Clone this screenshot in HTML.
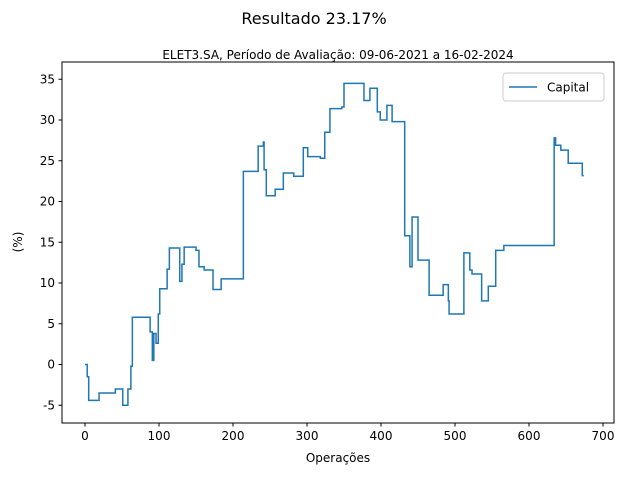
<!DOCTYPE html>
<html><head><meta charset="utf-8"><style>
body{margin:0;background:#fff;}
svg text{font-family:"DejaVu Sans","Liberation Sans",sans-serif;fill:#000;}
</style></head><body>
<svg id="c" width="629" height="475" xmlns="http://www.w3.org/2000/svg">
<rect width="629" height="475" fill="#fff"/>
<text x="314" y="24" font-size="16" text-anchor="middle">Resultado 23.17%</text>
<text x="338" y="59" font-size="12" text-anchor="middle">ELET3.SA, Período de Avaliação: 09-06-2021 a 16-02-2024</text>
<g id="ticks"></g>
<polyline id="line" fill="none" stroke="#1f77b4" stroke-width="1.5" stroke-linejoin="miter"/>
<rect x="62" y="62" width="552" height="361" fill="none" stroke="#000" stroke-width="1"/>
<text x="338" y="462" font-size="12" text-anchor="middle">Operações</text>
<text x="0" y="0" font-size="12" text-anchor="middle" transform="translate(22,242) rotate(-90)">(%)</text>
<g>
<rect x="503" y="73" width="101" height="28" rx="3" fill="#fff" stroke="#ccc"/>
<line x1="509" y1="87" x2="537" y2="87" stroke="#1f77b4" stroke-width="1.5"/>
<text x="547" y="91.5" font-size="12">Capital</text>
</g>
</svg>
<script>
const xTicks=[0,100,200,300,400,500,600,700];
const yTicks=[-5,0,5,10,15,20,25,30,35];
const opIdx=[0,3,5,19,41,51,58,62,64,88,91,93,96,99,101,111,114,128,131,134,150,154,161,173,184,214,234,241,242,245,257,268,282,295,301,318,324,331,347,350,377,385,395,399,408,415,432,439,442,450,465,484,491,492,512,520,523,536,545,555,566,634,636,643,653,672,674];
const capital=[0,-1.5,-4.4,-3.5,-3.0,-5.0,-3.0,-0.2,5.8,4.0,0.5,3.8,2.6,6.2,9.3,11.7,14.3,10.2,12.3,14.4,14.0,12.0,11.6,9.2,10.5,23.7,26.8,27.3,23.9,20.7,21.5,23.5,23.1,26.6,25.5,25.3,28.5,31.4,31.6,34.5,32.4,33.9,31.0,30.0,31.8,29.8,15.8,12.0,18.1,12.8,8.5,9.8,7.8,6.2,13.7,11.6,11.1,7.8,9.6,14.0,14.6,27.8,26.9,26.3,24.7,23.17,23.17];
const X=v=>85+v*0.74, Y=v=>364.5-v*8.15;
const NS='http://www.w3.org/2000/svg';
const g=document.getElementById('ticks');
function mk(t,a){const e=document.createElementNS(NS,t);for(const k in a)e.setAttribute(k,a[k]);g.appendChild(e);return e;}
xTicks.forEach(v=>{
 const l=mk('line',{x1:X(v),x2:X(v),y1:423,y2:426.5,stroke:'#000'});
 
 
 const t=mk('text',{x:X(v),y:440,'font-size':12,'text-anchor':'middle'});t.textContent=v;
 
 
});
yTicks.forEach(v=>{
 const l=mk('line',{x1:58.5,x2:62,y1:Y(v),y2:Y(v),stroke:'#000'});
 
 
 const t=mk('text',{x:55,y:Y(v)+4,'font-size':12,'text-anchor':'end'});t.textContent=v;
 
 
});
let pts=[];
for(let i=0;i<opIdx.length;i++){
 if(i>0)pts.push(X(opIdx[i])+','+Y(capital[i-1]));
 pts.push(X(opIdx[i])+','+Y(capital[i]));
}
document.getElementById('line').setAttribute('points',pts.join(' '));
</script>
</body></html>
